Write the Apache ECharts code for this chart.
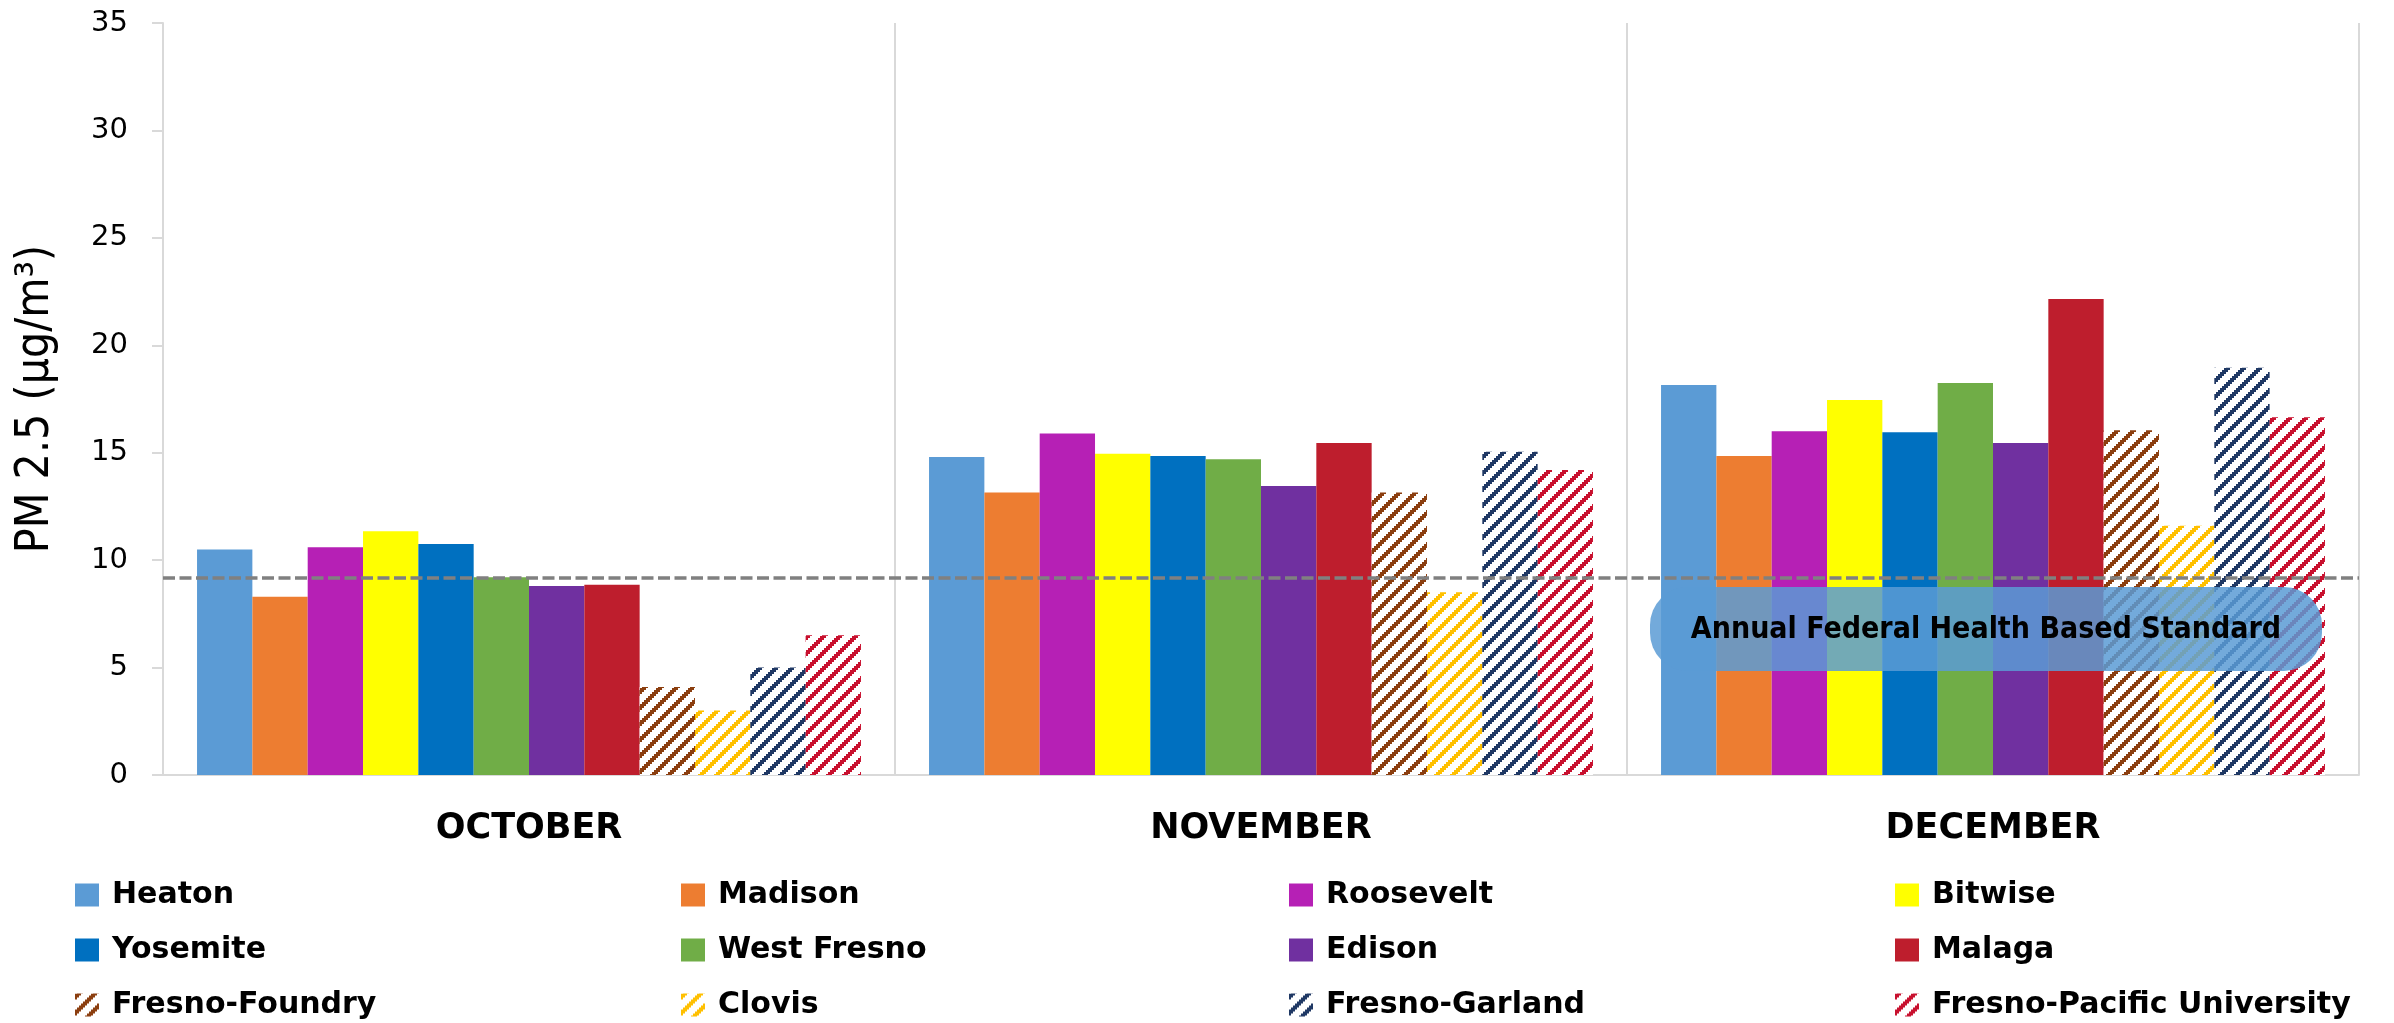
<!DOCTYPE html>
<html>
<head>
<meta charset="utf-8">
<script src="https://cdn.jsdelivr.net/npm/echarts@6/dist/echarts.min.js"></script>
<style>
html,body{margin:0;padding:0;background:#fff;}
#chart{width:2394px;height:1023px;}
</style>
</head>
<body>
<div id="chart"></div>
<script>
// ---- data ----
const months = ['OCTOBER', 'NOVEMBER', 'DECEMBER'];
const stations = ['Heaton', 'Madison', 'Roosevelt', 'Bitwise', 'Yosemite', 'West Fresno',
  'Edison', 'Malaga', 'Fresno-Foundry', 'Clovis', 'Fresno-Garland', 'Fresno-Pacific University'];
const octoberValues  = [10.5, 8.3, 10.6, 11.35, 10.75, 9.2, 8.8, 8.85, 4.1, 3.0, 5.0, 6.5];
const novemberValues = [14.8, 13.15, 15.9, 14.95, 14.85, 14.7, 13.45, 15.45, 13.15, 8.5, 15.05, 14.2];
const decemberValues = [18.15, 14.85, 16.0, 17.45, 15.95, 18.25, 15.45, 22.15, 16.05, 11.6, 18.95, 16.65];
const yTicks = [0, 5, 10, 15, 20, 25, 30, 35];
const standardValue = 9.2;
const standardLabel = 'Annual Federal Health Based Standard';
const yAxisTitle = 'PM 2.5 (µg/m³)';

// ---- styles ----
const stationColors = ['#5B9BD5', '#ED7D31', '#B620B5', '#FFFF00', '#0070C0', '#70AD47',
  '#7030A0', '#BE1E2D', '#8B3E0F', '#FFC000', '#1F3864', '#C8102E'];
const hatched = [false, false, false, false, false, false, false, false, true, true, true, true];
const FONT = 'DejaVu Sans';

function hatchPattern(color) {
  const c = document.createElement('canvas');
  c.width = 16; c.height = 16;
  const ctx = c.getContext('2d');
  ctx.fillStyle = '#ffffff';
  ctx.fillRect(0, 0, 16, 16);
  ctx.fillStyle = color;
  for (let y = 0; y < 16; y++) {
    for (let x = 0; x < 16; x++) {
      if (((Math.floor(x / 2) + Math.floor(y / 2)) % 8) < 3) ctx.fillRect(x, y, 1, 1);
    }
  }
  return { image: c, repeat: 'repeat' };
}

const monthValues = [octoberValues, novemberValues, decemberValues];

const series = stations.map((name, i) => {
  const s = {
    name: name,
    type: 'bar',
    barGap: '0%',
    barCategoryGap: '9.3%',
    data: monthValues.map(arr => arr[i]),
    itemStyle: { color: hatched[i] ? hatchPattern(stationColors[i]) : stationColors[i] },
    emphasis: { disabled: true },
    animation: false
  };
  if (i === stations.length - 1) {
    s.markLine = {
      silent: true,
      symbol: 'none',
      label: { show: false },
      lineStyle: { color: '#808080', type: [12, 4.5], width: 3.5 },
      data: [{ yAxis: standardValue }],
      animation: false
    };
  }
  return s;
});

const legendCols = [[0, 4, 8], [1, 5, 9], [2, 6, 10], [3, 7, 11]];
const legendLefts = [75, 681, 1289, 1895];
const legends = legendCols.map((col, k) => ({
  left: legendLefts[k],
  top: 880,
  height: 200,
  padding: 0,
  orient: 'vertical',
  itemWidth: 24,
  itemHeight: 23,
  itemGap: 25,
  selectedMode: false,
  icon: 'rect',
  data: col.map(i => stations[i]),
  textStyle: { fontFamily: FONT, fontWeight: 'bold', fontSize: 30, color: '#000', lineHeight: 30, padding: [0, 0, 0, 8] }
}));

const chart = echarts.init(document.getElementById('chart'), null, { renderer: 'canvas' });
chart.setOption({
  animation: false,
  backgroundColor: '#fff',
  grid: { left: 163, right: 35, top: 23, bottom: 248, containLabel: false },
  legend: legends,
  xAxis: {
    type: 'category',
    data: months,
    axisLine: { show: true, lineStyle: { color: '#D9D9D9', width: 2 } },
    axisTick: { show: false },
    splitLine: { show: true, interval: 0, lineStyle: { color: '#D9D9D9', width: 2 } },
    axisLabel: { fontFamily: FONT, fontWeight: 'bold', fontSize: 35, color: '#000', margin: 36, interval: 0 }
  },
  yAxis: {
    type: 'value',
    min: yTicks[0],
    max: yTicks[yTicks.length - 1],
    interval: yTicks[1] - yTicks[0],
    name: yAxisTitle,
    nameLocation: 'middle',
    nameRotate: 90,
    nameGap: 104,
    nameTextStyle: { fontFamily: 'DejaVu Sans Condensed', fontSize: 46, color: '#000' },
    axisLine: { show: true, lineStyle: { color: '#D9D9D9', width: 2 } },
    axisTick: { show: true, length: 11, lineStyle: { color: '#D9D9D9', width: 2 } },
    splitLine: { show: false },
    axisLabel: { fontFamily: FONT, fontSize: 29, color: '#000', margin: 35 }
  },
  series: series,
  graphic: [{
    type: 'rect',
    z: 100,
    shape: { x: 1650, y: 587, width: 672, height: 84, r: 38 },
    style: { fill: '#5B9BD5', opacity: 0.85 }
  }, {
    type: 'text',
    z: 101,
    x: 1986, y: 630,
    style: { text: standardLabel, fill: '#000', font: 'bold 30px "DejaVu Sans Condensed"', align: 'center', verticalAlign: 'middle' }
  }]
});
</script>
</body>
</html>
